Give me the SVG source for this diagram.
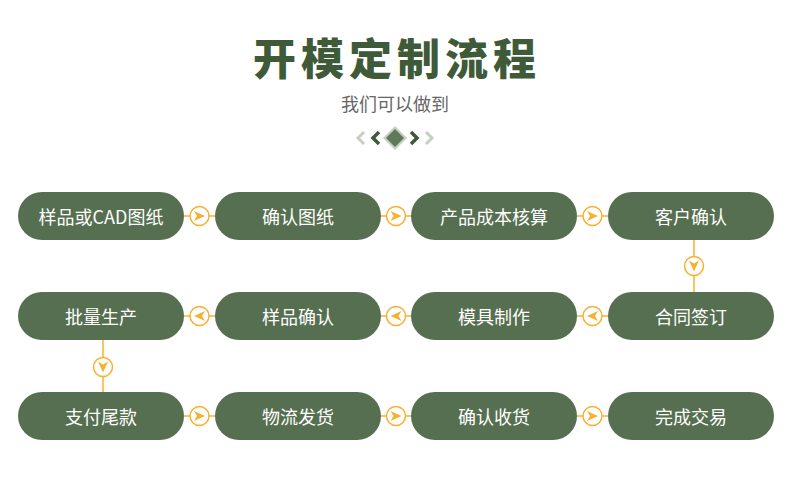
<svg xmlns="http://www.w3.org/2000/svg" width="790" height="498" viewBox="0 0 790 498">
<style>
.node rect{fill:#566f50}
.node text{fill:#ffffff;font-family:"Noto Sans CJK SC","Liberation Sans",sans-serif;font-size:18px;text-anchor:middle;dominant-baseline:central}
.conn line{stroke:#f7b131;stroke-width:1.5}
.conn circle{fill:#ffffff;stroke:#f7b131;stroke-width:1.5}
.conn path{fill:#f7b131}
</style>
<rect width="790" height="498" fill="#ffffff"/>
<text x="397" y="56" font-family="Noto Sans CJK SC,sans-serif" font-weight="900" font-size="43" fill="#3f5a39" text-anchor="middle" dominant-baseline="central" letter-spacing="5">开模定制流程</text>
<text x="395" y="103" font-family="Noto Sans CJK SC,sans-serif" font-size="18" fill="#666666" text-anchor="middle" dominant-baseline="central">我们可以做到</text>
<g id="ornament">
<path d="M364 132 L358 138 L364 144" fill="none" stroke="#c5cfc2" stroke-width="3"/>
<path d="M379 132 L373 138 L379 144" fill="none" stroke="#3f5a39" stroke-width="3.5"/>
<path d="M411 132 L417 138 L411 144" fill="none" stroke="#3f5a39" stroke-width="3.5"/>
<path d="M426 132 L432 138 L426 144" fill="none" stroke="#c5cfc2" stroke-width="3"/>
<path d="M395 126 L407 138 L395 150 L383 138 Z" fill="#c5cfc2"/>
<path d="M395 129 L404 138 L395 147 L386 138 Z" fill="#5e7a58"/>
</g>
<g id="connectors" class="conn">
<line x1="184" y1="216" x2="215" y2="216"/><circle cx="199.5" cy="216" r="9.5"/><path d="M194 211 L205 216 L194 221 L197 216 Z"/>
<line x1="381" y1="216" x2="411" y2="216"/><circle cx="396" cy="216" r="9.5"/><path d="M390.5 211 L401.5 216 L390.5 221 L393.5 216 Z"/>
<line x1="577" y1="216" x2="608" y2="216"/><circle cx="592.5" cy="216" r="9.5"/><path d="M587 211 L598 216 L587 221 L590 216 Z"/>
<line x1="694" y1="240" x2="694" y2="292"/><circle cx="694" cy="266" r="9.5"/><path d="M689 260.5 L694 271.5 L699 260.5 L694 263.5 Z"/>
<line x1="577" y1="316" x2="608" y2="316"/><circle cx="592.5" cy="316" r="9.5"/><path d="M598 311 L587 316 L598 321 L595 316 Z"/>
<line x1="381" y1="316" x2="411" y2="316"/><circle cx="396" cy="316" r="9.5"/><path d="M401.5 311 L390.5 316 L401.5 321 L398.5 316 Z"/>
<line x1="184" y1="316" x2="215" y2="316"/><circle cx="199.5" cy="316" r="9.5"/><path d="M205 311 L194 316 L205 321 L202 316 Z"/>
<line x1="103" y1="340" x2="103" y2="392"/><circle cx="103" cy="367" r="9.5"/><path d="M98 361.5 L103 372.5 L108 361.5 L103 364.5 Z"/>
<line x1="184" y1="416" x2="215" y2="416"/><circle cx="199.5" cy="416" r="9.5"/><path d="M194 411 L205 416 L194 421 L197 416 Z"/>
<line x1="381" y1="416" x2="411" y2="416"/><circle cx="396" cy="416" r="9.5"/><path d="M390.5 411 L401.5 416 L390.5 421 L393.5 416 Z"/>
<line x1="577" y1="416" x2="608" y2="416"/><circle cx="592.5" cy="416" r="9.5"/><path d="M587 411 L598 416 L587 421 L590 416 Z"/>
</g>
<g id="n1" class="node"><rect x="18" y="192" width="166" height="48" rx="24"/><text x="101" y="216">样品或CAD图纸</text></g>
<g id="n2" class="node"><rect x="215" y="192" width="166" height="48" rx="24"/><text x="298" y="216">确认图纸</text></g>
<g id="n3" class="node"><rect x="411" y="192" width="166" height="48" rx="24"/><text x="494" y="216">产品成本核算</text></g>
<g id="n4" class="node"><rect x="608" y="192" width="166" height="48" rx="24"/><text x="691" y="216">客户确认</text></g>
<g id="n5" class="node"><rect x="608" y="292" width="166" height="48" rx="24"/><text x="691" y="316">合同签订</text></g>
<g id="n6" class="node"><rect x="411" y="292" width="166" height="48" rx="24"/><text x="494" y="316">模具制作</text></g>
<g id="n7" class="node"><rect x="215" y="292" width="166" height="48" rx="24"/><text x="298" y="316">样品确认</text></g>
<g id="n8" class="node"><rect x="18" y="292" width="166" height="48" rx="24"/><text x="101" y="316">批量生产</text></g>
<g id="n9" class="node"><rect x="18" y="392" width="166" height="48" rx="24"/><text x="101" y="416">支付尾款</text></g>
<g id="n10" class="node"><rect x="215" y="392" width="166" height="48" rx="24"/><text x="298" y="416">物流发货</text></g>
<g id="n11" class="node"><rect x="411" y="392" width="166" height="48" rx="24"/><text x="494" y="416">确认收货</text></g>
<g id="n12" class="node"><rect x="608" y="392" width="166" height="48" rx="24"/><text x="691" y="416">完成交易</text></g>
</svg>
